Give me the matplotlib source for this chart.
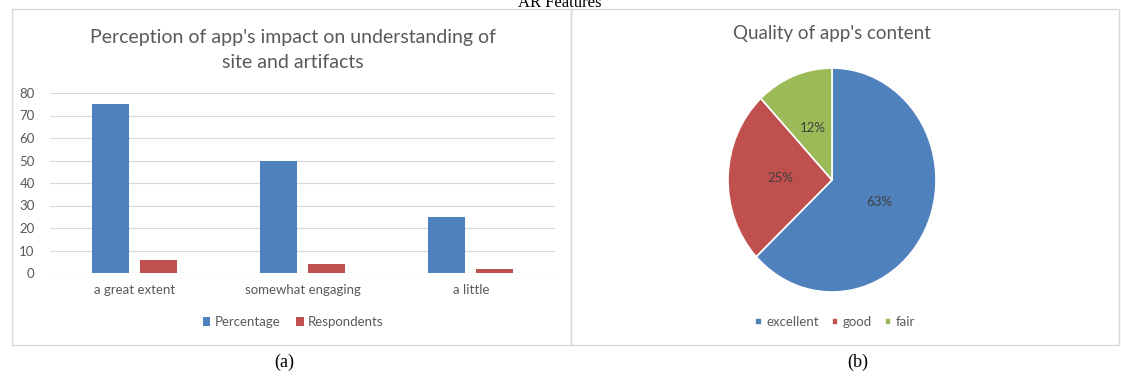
import matplotlib
matplotlib.use("Agg")
import matplotlib.pyplot as plt
import numpy as np
from matplotlib.patches import Rectangle

# Data
categories = ["a great extent", "somewhat engaging", "a little"]
percentage = [75, 50, 25]
respondents = [6, 4, 2]
bar_series = ["Percentage", "Respondents"]

pie_labels = ["excellent", "good", "fair"]
pie_values = [63, 25, 12]

BLUE = '#4F81BD'
RED = '#C0504D'
GREEN = '#9BBB59'
GRAY_TXT = '#595959'

W, H = 1121, 378
plt.rcParams['font.family'] = ['Lato', 'DejaVu Sans']


def px(x0, y0, x1, y1):
    """pixel box (top-left origin) -> figure fraction rect"""
    return [x0 / W, 1 - y1 / H, (x1 - x0) / W, (y1 - y0) / H]


fig = plt.figure(figsize=(W / 100, H / 100), dpi=100)
fig.patch.set_facecolor('white')

# Panel borders (the two panels share the middle edge)
for x0, x1 in [(12, 571), (571, 1119)]:
    r = px(x0, 9, x1, 345)
    fig.patches.append(Rectangle((r[0], r[1]), r[2], r[3], transform=fig.transFigure,
                                 fill=False, edgecolor='#D9D9D9', linewidth=1))

# Heading that is cut off at the top in the source
fig.text(560 / W, 1 - 7 / H, "AR Features", family='Liberation Serif',
         fontsize=12, ha='center', va='baseline', color='black')

# --- (a) bar chart ---
ax = fig.add_axes(px(50, 93, 555, 273))
x = np.arange(len(categories))
w = 0.22
off = 0.143
ax.bar(x - off, percentage, width=w, color=BLUE, label=bar_series[0], zorder=3)
ax.bar(x + off, respondents, width=w, color=RED, label=bar_series[1], zorder=3)
ax.set_xlim(-0.5, len(categories) - 0.5)
ax.set_ylim(0, 80)
ax.set_yticks(range(0, 81, 10))
ax.set_xticks(x)
ax.set_xticklabels(categories)
ax.grid(axis='y', color='#D9D9D9', linewidth=0.8, zorder=0)
for s in ax.spines.values():
    s.set_visible(False)
ax.tick_params(axis='both', length=0, colors=GRAY_TXT, labelsize=9.5)
ax.tick_params(axis='y', pad=11)
ax.tick_params(axis='x', pad=8)
ax.axhline(0, color='#D9D9D9', linewidth=0.8, zorder=1)

fig.text(293 / W, 1 - 37 / H, "Perception of app's impact on understanding of",
         ha='center', va='center', fontsize=14, color=GRAY_TXT)
fig.text(293 / W, 1 - 63 / H, "site and artifacts",
         ha='center', va='center', fontsize=14, color=GRAY_TXT)

ax.legend(loc='center', bbox_to_anchor=(293 / W, 1 - 322 / H), bbox_transform=fig.transFigure,
          ncol=2, frameon=False, fontsize=9.5, handlelength=0.6, handleheight=0.6,
          handletextpad=0.3, columnspacing=1.2, labelcolor=GRAY_TXT)

fig.text(284 / W, 1 - 362 / H, "(a)", family='Liberation Serif', fontsize=13,
         ha='center', va='center')

# --- (b) pie chart ---
pax = fig.add_axes(px(728, 68, 936, 292))
wedges, texts, autotexts = pax.pie(pie_values, colors=[BLUE, RED, GREEN], startangle=90,
                                   counterclock=False, autopct='%d%%', pctdistance=0.5,
                                   wedgeprops=dict(edgecolor='white', linewidth=1.2),
                                   textprops=dict(fontsize=9.5, color='#404040'))
pax.set_aspect('auto')
pax.set_xlim(-1, 1)
pax.set_ylim(-1, 1)

fig.text(832 / W, 1 - 33 / H, "Quality of app's content",
         ha='center', va='center', fontsize=13.5, color=GRAY_TXT)

pax.legend(wedges, pie_labels, loc='center', bbox_to_anchor=(835 / W, 1 - 322 / H),
           bbox_transform=fig.transFigure, ncol=3, frameon=False, fontsize=9.5,
           handlelength=0.5, handleheight=0.5, handletextpad=0.3, columnspacing=1.0,
           labelcolor=GRAY_TXT)

fig.text(858 / W, 1 - 362 / H, "(b)", family='Liberation Serif', fontsize=13,
         ha='center', va='center')

fig.savefig("out.png", dpi=100)
